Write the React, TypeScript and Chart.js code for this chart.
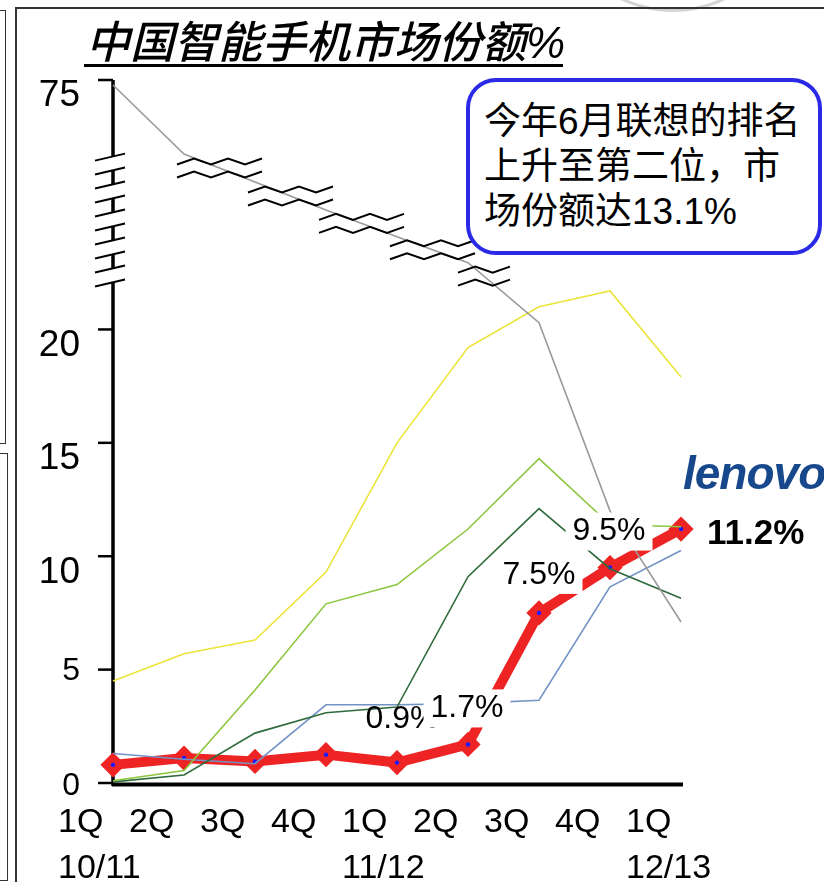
import React, { useEffect, useRef } from 'react';
import { Chart, registerables } from 'chart.js';

Chart.register(...registerables);

// ---------- data ----------
const QUARTERS = ['1Q', '2Q', '3Q', '4Q', '1Q', '2Q', '3Q', '4Q', '1Q'];
const YEARS = ['10/11', '', '', '', '11/12', '', '', '', '12/13'];

const GRAY_SERIES = [75, 56.6, 49.2, 41.7, 34.6, 27.7, 20.3, 12.0, 7.1];
const YELLOW_SERIES = [4.5, 5.7, 6.3, 9.3, 15.0, 19.2, 21.0, 21.7, 17.9];
const LIGHT_GREEN_SERIES = [0.1, 0.55, 4.1, 7.9, 8.75, 11.2, 14.3, 11.4, 11.3];
const DARK_GREEN_SERIES = [0.05, 0.35, 2.2, 3.1, 3.35, 9.1, 12.1, 9.45, 8.15];
const BLUE_SERIES = [1.3, 1.05, 0.85, 3.45, 3.45, 3.5, 3.65, 8.65, 10.25];
const LENOVO_SERIES = [0.8, 1.1, 0.95, 1.25, 0.9, 1.7, 7.5, 9.5, 11.2];
const LENOVO_LABELS = ['', '', '', '', '0.9%', '1.7%', '7.5%', '9.5%', '11.2%'];

const Y_TICKS = [0, 5, 10, 15, 20, 75];

const TITLE = '中国智能手机市场份额%';
const CALLOUT_LINES = ['今年6月联想的排名', '上升至第二位，市', '场份额达13.1%'];
const LOGO_TEXT = 'lenovo';

// ---------- broken axis mapping ----------
const BREAK_FROM = 22;
const TOP_VALUE = 75;
const TOP_DISPLAY = 30.78;
const Y_MAX = 31;
const AXIS_BREAK_DISPLAY = [22.05, 27.6];

const toDisplay = (v: number) =>
  v <= BREAK_FROM
    ? v
    : BREAK_FROM + ((v - BREAK_FROM) * (TOP_DISPLAY - BREAK_FROM)) / (TOP_VALUE - BREAK_FROM);

const NUM_FONT = '"Liberation Sans", Arial, sans-serif';
const CJK_FONT = '"Liberation Sans", "Noto Sans CJK SC", sans-serif';

const decorPlugin = {
  id: 'decor',
  beforeDatasetsDraw(chart: any) {
    const { ctx, chartArea } = chart;
    const y = chart.scales.y;
    const x = chart.scales.x;
    const ax = chartArea.left;
    ctx.save();
    // y axis with break marks
    const top = y.getPixelForValue(Y_MAX);
    const bottom = y.getPixelForValue(0) + 3;
    const bTop = y.getPixelForValue(AXIS_BREAK_DISPLAY[1]);
    const bBot = y.getPixelForValue(AXIS_BREAK_DISPLAY[0]);
    const n = 10;
    const step = (bBot - bTop) / (n - 1);
    const sy = (i: number) => bTop + i * step;
    ctx.strokeStyle = '#000';
    ctx.lineWidth = 3.5;
    ctx.beginPath();
    ctx.moveTo(ax, top);
    ctx.lineTo(ax, sy(0));
    [1, 3, 5, 7].forEach((k) => {
      ctx.moveTo(ax, sy(k));
      ctx.lineTo(ax, sy(k + 1));
    });
    ctx.moveTo(ax, sy(n - 1));
    ctx.lineTo(ax, bottom);
    ctx.stroke();
    ctx.lineWidth = 2;
    ctx.beginPath();
    for (let i = 0; i < n; i++) {
      ctx.moveTo(ax - 18, sy(i) + 3.5);
      ctx.lineTo(ax + 12, sy(i) - 3.5);
    }
    ctx.stroke();

    // tick marks and labels
    const labelStyle: Record<number, [number, number]> = {
      0: [32, 3],
      5: [32, 2],
      10: [37, 17],
      15: [37, 16],
      20: [37, 16],
      75: [37, 16],
    };
    ctx.lineWidth = 2.5;
    ctx.fillStyle = '#000';
    ctx.textAlign = 'right';
    ctx.textBaseline = 'middle';
    Y_TICKS.forEach((v) => {
      const py = y.getPixelForValue(v === TOP_VALUE ? Y_MAX : toDisplay(v));
      ctx.beginPath();
      ctx.moveTo(ax - 15, py);
      ctx.lineTo(ax, py);
      ctx.stroke();
      const [size, dy] = labelStyle[v] || [34, 0];
      ctx.font = `${size}px ${NUM_FONT}`;
      ctx.fillText(String(v), ax - 33, py + dy);
    });

    // x axis line
    const x0 = y.getPixelForValue(0) + 1.5;
    ctx.lineWidth = 4;
    ctx.beginPath();
    ctx.moveTo(ax - 1, x0);
    ctx.lineTo(x.getPixelForValue(QUARTERS.length - 1) + 2, x0);
    ctx.stroke();
    ctx.restore();
  },
  afterDatasetsDraw(chart: any) {
    const { ctx } = chart;
    ctx.save();
    // zigzag break marks on the gray series
    const gray = chart.getDatasetMeta(0).data;
    const zig: [number, number, number][] = [
      [1, 0.5, 85],
      [2, 0.5, 85],
      [3, 0.5, 85],
      [4, 0.5, 85],
      [5, 0.225, 52],
    ];
    ctx.strokeStyle = '#000';
    ctx.lineWidth = 2;
    ctx.lineJoin = 'miter';
    zig.forEach(([seg, t, w]) => {
      const p0 = gray[seg];
      const p1 = gray[seg + 1];
      const cx = p0.x + t * (p1.x - p0.x);
      const cy = p0.y + t * (p1.y - p0.y);
      const segs = Math.round(w / 17);
      [-6.5, 6.5].forEach((off) => {
        ctx.beginPath();
        for (let j = 0; j <= segs; j++) {
          const xx = cx - w / 2 + (j * w) / segs;
          const yy = cy + off + (j % 2 === 0 ? 3 : -3);
          if (j === 0) ctx.moveTo(xx, yy);
          else ctx.lineTo(xx, yy);
        }
        ctx.stroke();
      });
    });

    // lenovo data labels
    const red = chart.getDatasetMeta(5).data;
    const offsets: Record<number, [number, number, boolean]> = {
      4: [5, -43, false],
      5: [-1, -36, true],
      6: [0, -38, true],
      7: [-1, -36, true],
    };
    const last = LENOVO_LABELS.length - 1;
    LENOVO_LABELS.forEach((txt, i) => {
      if (!txt) return;
      const p = red[i];
      if (i === last) {
        ctx.font = `bold 35px ${NUM_FONT}`;
        ctx.textAlign = 'left';
        ctx.textBaseline = 'middle';
        ctx.fillStyle = '#000';
        ctx.fillText(txt, p.x + 26, p.y + 5);
        return;
      }
      const [dx, dy, box] = offsets[i] || [0, -37, true];
      const cx = p.x + dx;
      const cy = p.y + dy;
      ctx.font = `32px ${NUM_FONT}`;
      const w = ctx.measureText(txt).width;
      if (box) {
        ctx.fillStyle = '#fff';
        ctx.fillRect(cx - w / 2 - 7, cy - 19, w + 14, 38);
      }
      ctx.fillStyle = '#000';
      ctx.textAlign = 'center';
      ctx.textBaseline = 'middle';
      ctx.fillText(txt, cx, cy);
    });
    ctx.restore();
  },
};

function thin(label: string, data: number[], color: string) {
  return {
    label,
    data: data.map(toDisplay),
    borderColor: color,
    backgroundColor: color,
    borderWidth: 1.6,
    pointRadius: 0,
    tension: 0,
    order: 0,
    clip: false as any,
  };
}

export default function App() {
  const ref = useRef<HTMLCanvasElement | null>(null);

  useEffect(() => {
    if (!ref.current) return;
    Chart.defaults.font.family = NUM_FONT;
    const chart = new Chart(ref.current, {
      type: 'line',
      data: {
        labels: QUARTERS.map((q, i) => [q, YEARS[i]]),
        datasets: [
          thin('gray', GRAY_SERIES, '#9a9a9a'),
          thin('yellow', YELLOW_SERIES, '#ece43a'),
          thin('light green', LIGHT_GREEN_SERIES, '#8cc63e'),
          thin('dark green', DARK_GREEN_SERIES, '#2f6b3c'),
          thin('blue', BLUE_SERIES, '#7393c6'),
          {
            label: 'Lenovo',
            data: LENOVO_SERIES.map(toDisplay),
            borderColor: '#ee2424',
            backgroundColor: '#ee2424',
            borderWidth: 10,
            pointStyle: 'rectRot',
            pointRadius: 10.5,
            pointBorderWidth: 3,
            pointBorderColor: '#ee2424',
            pointBackgroundColor: '#ee2424',
            tension: 0,
            order: 10,
            clip: false as any,
          },
          {
            label: 'Lenovo points',
            data: LENOVO_SERIES.map(toDisplay),
            showLine: false,
            pointRadius: 2.2,
            pointBorderWidth: 0,
            pointBackgroundColor: '#1a1aff',
            order: 9,
            clip: false as any,
          },
        ],
      },
      options: {
        responsive: false,
        animation: false,
        layout: { padding: { top: 80, right: 143, left: 0, bottom: 0 } },
        plugins: { legend: { display: false }, tooltip: { enabled: false } },
        scales: {
          x: {
            type: 'category',
            offset: false,
            grid: { display: false, drawTicks: false },
            border: { display: false },
            ticks: {
              color: '#000',
              font: { size: 34, family: NUM_FONT, lineHeight: 46 / 34 },
              align: 'start',
              labelOffset: -55,
              padding: 17,
              maxRotation: 0,
              autoSkip: false,
            },
            afterFit: (s: any) => {
              s.height = 99;
            },
          },
          y: {
            min: 0,
            max: Y_MAX,
            grid: { display: false, drawTicks: false },
            border: { display: false },
            ticks: { display: false },
            afterFit: (s: any) => {
              s.width = 113;
            },
          },
        },
      },
      plugins: [decorPlugin],
    } as any);
    return () => chart.destroy();
  }, []);

  const line = (style: React.CSSProperties) => (
    <div style={{ position: 'absolute', background: '#333', ...style }} />
  );

  return (
    <div
      style={{
        position: 'fixed',
        left: 0,
        top: 0,
        width: 824,
        height: 882,
        overflow: 'hidden',
        background: '#fff',
      }}
    >
      {/* slide frame decorations */}
      <div
        style={{
          position: 'absolute',
          left: 552,
          top: -230,
          width: 242,
          height: 242,
          borderRadius: '50%',
          border: '3px solid #d4d4d4',
          boxSizing: 'border-box',
        }}
      />
      {line({ left: 16, top: 7, width: 808, height: 1.5 })}
      {line({ left: 15, top: 7, width: 1.5, height: 875 })}
      <div
        style={{
          position: 'absolute',
          left: -4,
          top: 10,
          width: 10,
          height: 434,
          border: '1.5px solid #333',
          boxSizing: 'border-box',
        }}
      />
      <div
        style={{
          position: 'absolute',
          left: -4,
          top: 453,
          width: 12,
          height: 428,
          border: '1.5px solid #333',
          boxSizing: 'border-box',
        }}
      />

      <canvas
        ref={ref}
        width={824}
        height={882}
        style={{ position: 'absolute', left: 0, top: 0, width: 824, height: 882 }}
      />

      {/* title */}
      <div
        style={{
          position: 'absolute',
          left: 86,
          top: 21,
          fontFamily: CJK_FONT,
          fontSize: 44,
          fontWeight: 500,
          fontStyle: 'italic',
          lineHeight: 1,
          whiteSpace: 'nowrap',
          color: '#000',
        }}
      >
        {TITLE}
      </div>
      {line({ left: 84, top: 64, width: 479, height: 2.5, background: '#000' })}

      {/* callout */}
      <div
        style={{
          position: 'absolute',
          left: 466,
          top: 78,
          width: 356,
          height: 177,
          boxSizing: 'border-box',
          border: '4px solid #2a2ae6',
          borderRadius: 30,
          background: '#fff',
          paddingTop: 17,
          paddingLeft: 14,
          fontFamily: CJK_FONT,
          fontSize: 37,
          lineHeight: '45px',
          color: '#000',
          whiteSpace: 'nowrap',
        }}
      >
        {CALLOUT_LINES.map((t, i) => (
          <div key={i}>{t}</div>
        ))}
      </div>

      {/* logo */}
      <div
        style={{
          position: 'absolute',
          left: 683,
          top: 450,
          fontFamily: NUM_FONT,
          fontSize: 46,
          fontWeight: 'bold',
          fontStyle: 'italic',
          lineHeight: 1,
          letterSpacing: -1,
          color: '#18488c',
          whiteSpace: 'nowrap',
        }}
      >
        {LOGO_TEXT}
      </div>
    </div>
  );
}
